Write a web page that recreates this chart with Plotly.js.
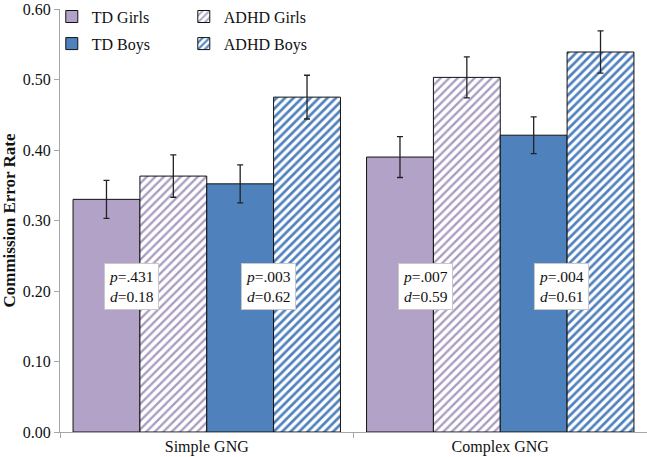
<!DOCTYPE html>
<html>
<head>
<meta charset="utf-8">
<script src="https://cdn.plot.ly/plotly-3.0.1.min.js"></script>
<style>html,body{margin:0;padding:0;background:#fff;}#chart{width:647px;height:457px;}</style>
</head>
<body>
<div id="chart"></div>
<script>
var categories = ["Simple GNG", "Complex GNG"];
var seriesNames = ["TD Girls", "ADHD Girls", "TD Boys", "ADHD Boys"];
var tdGirls = [0.330, 0.390];
var adhdGirls = [0.363, 0.503];
var tdBoys = [0.352, 0.421];
var adhdBoys = [0.475, 0.539];
var tdGirlsErr = [0.027, 0.029];
var adhdGirlsErr = [0.030, 0.029];
var tdBoysErr = [0.027, 0.026];
var adhdBoysErr = [0.031, 0.030];
var statLabels = ["<i>p</i>=.431<br><i>d</i>=0.18", "<i>p</i>=.003<br><i>d</i>=0.62", "<i>p</i>=.007<br><i>d</i>=0.59", "<i>p</i>=.004<br><i>d</i>=0.61"];
var statX = [-0.255, 0.21, 0.745, 1.21];
var statY = [0.207, 0.207, 0.207, 0.207];

var FONT = "Liberation Serif, Times New Roman, serif";
var purple = "#b3a2c7", blue = "#4f81bd";
var errStyle = function (arr) {
  return {type: "data", array: arr, visible: true, color: "#222", thickness: 1.3, width: 3};
};
var outline = {color: "#111", width: 1};

var traces = [
  {type: "bar", name: seriesNames[0], x: categories, y: tdGirls, error_y: errStyle(tdGirlsErr),
   marker: {color: purple, line: outline}, legend: "legend"},
  {type: "bar", name: seriesNames[1], x: categories, y: adhdGirls, error_y: errStyle(adhdGirlsErr),
   marker: {color: "#ffffff", line: outline, pattern: {shape: "/", fgcolor: "#a99cc0", bgcolor: "#ffffff", size: 6, solidity: 0.38}}, legend: "legend"},
  {type: "bar", name: seriesNames[2], x: categories, y: tdBoys, error_y: errStyle(tdBoysErr),
   marker: {color: blue, line: outline}, legend: "legend2"},
  {type: "bar", name: seriesNames[3], x: categories, y: adhdBoys, error_y: errStyle(adhdBoysErr),
   marker: {color: "#ffffff", line: outline, pattern: {shape: "/", fgcolor: blue, bgcolor: "#ffffff", size: 6, solidity: 0.45}}, legend: "legend2"}
];

var annotations = statLabels.map(function (t, i) {
  return {x: statX[i], y: statY[i], xref: "x", yref: "y", text: t, showarrow: false,
    font: {family: FONT, size: 15.5, color: "#111"}, bgcolor: "#ffffff", bordercolor: "#c8c8c8",
    borderwidth: 1, borderpad: 4, align: "left"};
});

var legendBase = {orientation: "h", xref: "paper", yref: "paper", xanchor: "left", yanchor: "middle",
  font: {family: FONT, size: 16, color: "#111"}, bgcolor: "rgba(0,0,0,0)",
  entrywidth: 87, entrywidthmode: "pixels", traceorder: "normal", itemwidth: 30};

var layout = {
  width: 647, height: 457,
  margin: {l: 60, r: 0, t: 9, b: 25, pad: 0, autoexpand: false},
  paper_bgcolor: "#ffffff", plot_bgcolor: "#ffffff",
  font: {family: FONT, size: 16, color: "#111"},
  barmode: "group", bargap: 0.089, bargroupgap: 0,
  showlegend: true,
  legend: Object.assign({}, legendBase, {x: -0.014, y: 0.982}),
  legend2: Object.assign({}, legendBase, {x: -0.014, y: 0.918}),
  xaxis: {type: "category", showline: true, linecolor: "#a6a6a6", linewidth: 1, automargin: false,
    ticks: "outside", tickson: "boundaries", ticklen: 5, tickcolor: "#a6a6a6",
    tickfont: {family: FONT, size: 16, color: "#111"}, showgrid: false, zeroline: false},
  yaxis: {range: [0, 0.6], tickvals: [0, 0.1, 0.2, 0.3, 0.4, 0.5, 0.6],
    ticktext: ["0.00", "0.10", "0.20", "0.30", "0.40", "0.50", "0.60"],
    showline: true, linecolor: "#a6a6a6", linewidth: 1, automargin: false, ticklabeloverflow: "allow",
    ticks: "outside", ticklen: 5, tickcolor: "#a6a6a6", showgrid: false, zeroline: false,
    tickfont: {family: FONT, size: 16, color: "#111"},
    title: {text: "<b>Commission Error Rate</b>", font: {family: FONT, size: 17, color: "#111"}, standoff: 4}},
  annotations: annotations
};

Plotly.newPlot("chart", traces, layout, {displayModeBar: false, staticPlot: true});
</script>
</body>
</html>
